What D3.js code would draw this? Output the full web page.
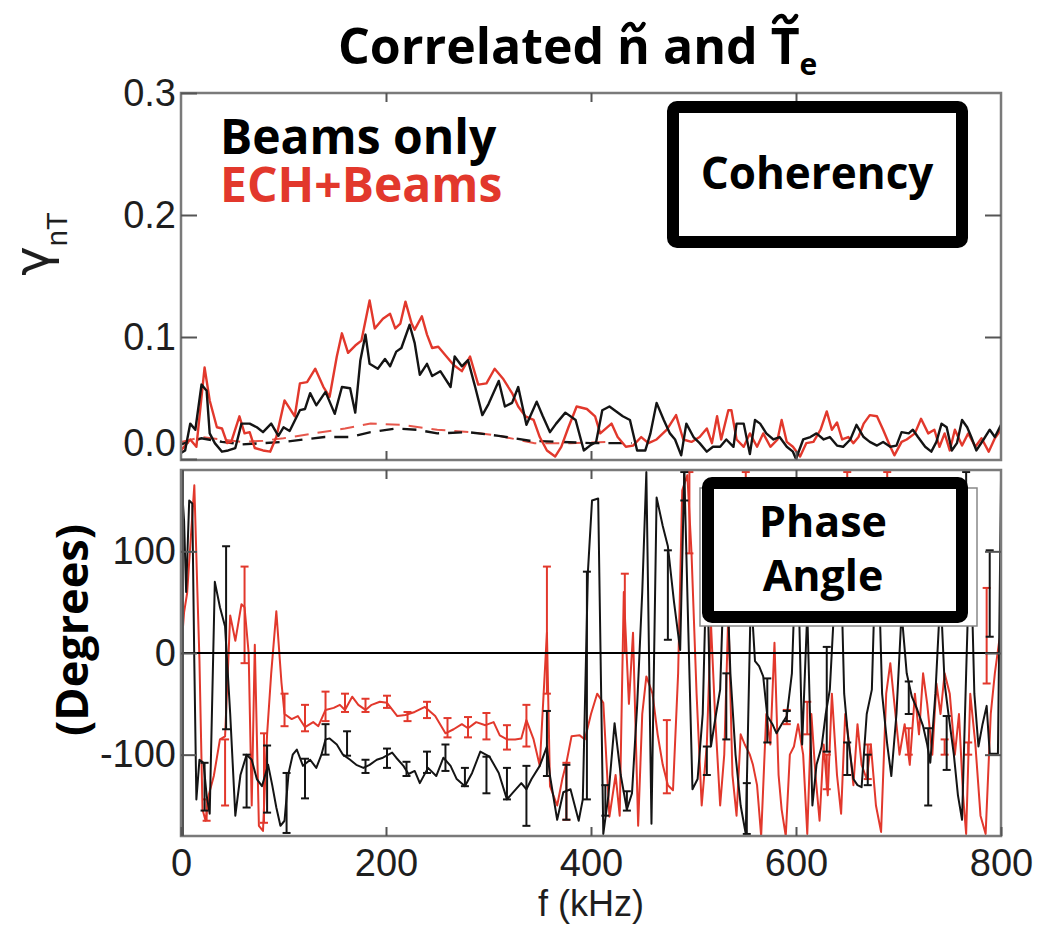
<!DOCTYPE html>
<html><head><meta charset="utf-8">
<script src="https://cdn.jsdelivr.net/npm/d3@7"></script>
<style>body{margin:0;background:#fff}</style>
</head><body>
<svg id="c" width="1055" height="929"></svg>
<script>
// ---------- data ----------
const freqTicks = [0, 200, 400, 600, 800];
const cohTicks = [0, 0.1, 0.2, 0.3];
const phaseTicks = [-100, 0, 100];
const legendLabels = ["Beams only", "ECH+Beams"];

// coherency [f (kHz), gamma]
const cohBeams = [[0,.005],[4,.007],[9,.029],[14,.024],[20,.061],[25,.056],[28,.021],[33,.013],[40,.006],[46,.007],[53,.009],[59,.029],[67,.029],[74,.026],[80,.022],[88,.029],[95,.019],[100,.026],[106,.023],[116,.040],[121,.041],[126,.054],[132,.044],[141,.055],[150,.037],[157,.059],[165,.058],[170,.038],[175,.081],[180,.102],[184,.078],[192,.074],[199,.082],[204,.076],[210,.088],[215,.091],[223,.110],[228,.095],[233,.069],[240,.078],[245,.068],[253,.072],[263,.059],[267,.084],[274,.076],[280,.081],[287,.059],[294,.036],[300,.045],[310,.064],[316,.043],[323,.046],[329,.059],[337,.028],[347,.047],[353,.035],[360,.022],[366,.029],[375,.038],[385,.032],[393,.007],[399,.011],[405,.014],[411,.040],[418,.043],[431,.035],[438,.032],[445,.007],[453,.007],[458,.021],[464,.046],[471,.032],[477,.021],[482,.016],[488,.003],[493,.029],[500,.018],[506,.013],[513,.006],[519,.010],[526,.010],[532,.016],[539,.010],[542,.029],[549,.029],[555,.004],[560,.032],[565,.029],[571,.021],[578,.016],[584,.018],[591,.010],[597,.006],[600,.000],[607,.016],[614,.018],[620,.021],[627,.016],[633,.018],[640,.011],[646,.010],[653,.016],[659,.028],[666,.018],[672,.014],[679,.011],[685,.014],[692,.010],[698,.011],[703,.022],[710,.021],[714,.024],[719,.018],[726,.010],[732,.006],[737,.014],[742,.029],[747,.026],[752,.007],[757,.013],[762,.032],[767,.026],[771,.018],[776,.007],[783,.016],[789,.024],[794,.018],[800,.028]];
const cohECH = [[0,.007],[9,.016],[15,.010],[23,.075],[28,.048],[35,.026],[40,.025],[45,.013],[49,.014],[57,.035],[62,.021],[67,.022],[72,.009],[80,.007],[87,.006],[93,.018],[101,.048],[111,.035],[116,.062],[123,.063],[131,.074],[139,.059],[145,.051],[152,.084],[157,.103],[163,.087],[170,.093],[176,.097],[184,.130],[189,.107],[197,.115],[204,.119],[209,.107],[214,.111],[219,.129],[225,.111],[228,.106],[235,.117],[240,.102],[245,.091],[251,.092],[259,.084],[266,.077],[274,.072],[282,.084],[290,.061],[298,.062],[306,.074],[314,.066],[323,.054],[329,.043],[336,.035],[344,.032],[350,.018],[357,.007],[365,.002],[371,.010],[378,.026],[386,.043],[396,.041],[404,.035],[409,.021],[420,.029],[426,.018],[434,.010],[441,.011],[449,.018],[456,.013],[464,.016],[474,.024],[483,.036],[490,.016],[498,.014],[506,.018],[513,.025],[518,.013],[523,.035],[527,.016],[534,.040],[537,.040],[542,.016],[549,.010],[555,.021],[562,.010],[568,.021],[575,.010],[582,.016],[586,.032],[591,.014],[597,.010],[604,.002],[610,.013],[617,.014],[624,.024],[630,.039],[635,.024],[640,.030],[645,.016],[651,.018],[656,.013],[661,.018],[666,.029],[672,.036],[679,.035],[685,.024],[692,.010],[696,.003],[703,.014],[708,.016],[716,.021],[722,.033],[729,.021],[735,.024],[740,.010],[745,.021],[750,.007],[755,.024],[762,.011],[768,.021],[775,.010],[781,.017],[788,.006],[794,.017],[800,.024]];
// noise levels (dashed)
const noiseBeams = [[0,.012],[20,.017],[40,.014],[60,.012],[80,.013],[100,.014],[120,.016],[140,.018],[165,.018],[185,.022],[210,.025],[230,.024],[250,.021],[280,.022],[310,.019],[340,.015],[370,.014],[400,.013],[440,.013]];
const noiseECH = [[0,.014],[20,.018],[40,.016],[60,.014],[80,.015],[100,.017],[130,.021],[160,.025],[185,.029],[215,.028],[250,.024],[282,.022],[310,.019],[345,.013],[380,.013],[420,.014]];

// phase angle [f (kHz), degrees]
const phaseBeams = [[0,176],[3,130],[5,60],[8,150],[11,147],[13,-10],[15,-144],[18,-105],[22,-108],[25,-140],[28,-158],[33,70],[38,45],[43,26],[48,-60],[53,-160],[58,-120],[64,-100],[69,-105],[74,-124],[79,-131],[85,-110],[89,-130],[93,-152],[97,-170],[101,-165],[105,-118],[109,-100],[113,-95],[119,-111],[126,-105],[132,-113],[137,-100],[141,-85],[145,-84],[152,-90],[158,-100],[165,-105],[171,-110],[178,-113],[184,-110],[191,-105],[197,-103],[206,-98],[210,-103],[217,-111],[222,-119],[228,-116],[233,-128],[241,-113],[249,-121],[256,-103],[263,-111],[269,-124],[277,-131],[284,-118],[292,-97],[301,-102],[310,-118],[318,-144],[324,-137],[332,-128],[337,-134],[342,-124],[350,-111],[357,-92],[360,-121],[367,-164],[373,-137],[380,-134],[388,-165],[392,-144],[397,80],[401,150],[407,152],[412,-178],[417,-140],[423,-69],[429,-120],[435,-154],[440,-138],[445,-52],[450,60],[454,178],[459,-168],[464,153],[470,125],[475,105],[481,50],[487,3],[491,178],[495,20],[499,-134],[504,-124],[509,-60],[513,100],[517,-92],[522,-60],[526,-36],[531,120],[536,-20],[541,-100],[546,-150],[551,-178],[556,60],[560,-8],[564,-13],[568,-23],[572,-62],[577,-70],[581,-79],[586,-70],[591,-62],[596,-20],[601,130],[606,-90],[611,40],[616,-150],[620,-110],[625,-92],[629,-60],[633,-36],[638,60],[643,120],[647,-40],[651,-85],[656,-124],[660,-130],[664,-132],[669,-60],[674,-36],[679,140],[684,-40],[689,-90],[693,-121],[698,-60],[703,40],[708,-20],[713,-43],[718,-55],[724,-72],[728,-90],[731,-108],[736,-40],[741,60],[745,-30],[749,-62],[754,-100],[758,-140],[762,-164],[766,-20],[770,120],[774,-40],[778,-92],[782,-70],[786,-52],[789,-99],[793,-99],[797,-99],[800,170]];
const phaseECH = [[0,0],[3,40],[6,59],[10,120],[13,165],[16,60],[18,-7],[21,-154],[24,-165],[27,-140],[32,-121],[38,-85],[43,-82],[48,37],[53,12],[59,48],[62,45],[66,0],[69,-150],[72,8],[76,-170],[80,-175],[84,-80],[88,-20],[93,41],[98,-29],[101,-60],[108,-65],[114,-62],[121,-73],[129,-68],[134,-72],[141,-56],[149,-54],[155,-51],[160,-56],[167,-43],[173,-51],[180,-56],[186,-51],[194,-48],[201,-49],[211,-62],[219,-61],[228,-58],[238,-53],[248,-62],[258,-79],[266,-75],[274,-70],[280,-74],[288,-68],[297,-71],[305,-68],[311,-81],[318,-85],[326,-85],[332,-84],[337,-66],[344,-85],[350,-111],[357,20],[360,-131],[367,-150],[372,-124],[376,-108],[381,-82],[389,-81],[394,-85],[400,-60],[406,-40],[412,-49],[418,-161],[424,-120],[428,-160],[432,60],[437,-50],[441,20],[446,-170],[450,-60],[454,-23],[460,-40],[465,-80],[470,-110],[475,-130],[480,-135],[485,-20],[489,160],[494,175],[498,100],[503,-40],[508,-150],[513,-90],[517,30],[521,-60],[526,-150],[530,-100],[534,40],[538,-120],[542,-160],[546,-80],[550,-90],[555,-100],[558,-110],[562,-130],[566,-180],[571,-60],[575,-90],[579,10],[583,-120],[586,-154],[590,-180],[594,-100],[598,-92],[602,-70],[607,-100],[611,-178],[615,-60],[619,-120],[623,-165],[627,-90],[631,-140],[635,-40],[640,-120],[644,-158],[648,-60],[652,-90],[656,-130],[660,-70],[664,-110],[669,-124],[673,-90],[678,-150],[683,-176],[688,-40],[692,-10],[697,-60],[701,-100],[706,-70],[711,-110],[716,-40],[720,-80],[724,-20],[728,-50],[733,-100],[737,-30],[741,-60],[745,-20],[750,-40],[755,-100],[759,-60],[763,-140],[766,-178],[770,-40],[775,-90],[780,-160],[785,-178],[790,-60],[794,-20],[798,10],[800,20]];
// error bars [f, low, high] in degrees
const errBeams = [[23,-155,-108],[44,-75,105],[64,-152,-100],[84,-157,-91],[103,-177,-118],[121,-143,-104],[141,-100,-70],[162,-101,-77],[180,-118,-105],[201,-113,-94],[220,-121,-107],[240,-118,-97],[258,-116,-90],[277,-131,-113],[298,-138,-102],[318,-144,-113],[337,-170,-111],[357,-121,-57],[376,-164,-110],[396,-144,80],[414,-160,-130],[435,-155,-136],[475,13,101],[491,150,178],[513,-120,-92],[532,-85,-20],[552,-178,-128],[572,-88,-25],[591,-67,-57],[630,-97,6],[650,-120,-88],[670,-130,-100],[710,-60,-28],[729,-150,-74],[747,-115,-62],[766,120,178],[789,16,101]];
const errECH = [[25,-165,-144],[43,-150,-85],[62,-10,85],[81,-167,-79],[101,-72,-40],[121,-77,-51],[141,-67,-38],[160,-58,-40],[180,-58,-45],[201,-54,-42],[221,-67,-58],[240,-64,-48],[260,-83,-64],[280,-83,-63],[298,-85,-59],[318,-95,-71],[337,-92,-51],[357,-40,85],[376,-164,-108],[433,0,78],[474,-138,-66],[496,98,178],[551,140,178],[591,-70,-56],[611,-80,-48],[630,-134,-100],[650,150,178],[670,-124,-90],[689,150,178],[710,-100,-74],[745,-100,-85],[768,-100,-88],[786,-30,64]];

// ---------- drawing ----------
const BLACK = "#141414", RED = "#e2382c", FRAME = "#7a7a7a";
const svg = d3.select("#c");
const L = 181, R = 1001;
const x = d3.scaleLinear().domain([0, 800]).range([L, R]);
const yc = d3.scaleLinear().domain([0, 0.3]).range([459, 93]);
const yp = d3.scaleLinear().domain([-180, 180]).range([836, 470]);

const defs = svg.append("defs");
defs.append("clipPath").attr("id", "clipTop").append("rect").attr("x", L).attr("y", 93).attr("width", R - L).attr("height", 367);
defs.append("clipPath").attr("id", "clipBot").append("rect").attr("x", L).attr("y", 470).attr("width", R - L).attr("height", 366);

// ---- top panel: coherency ----
const gTop = svg.append("g").attr("clip-path", "url(#clipTop)");
const lineC = d3.line().x(d => x(d[0])).y(d => yc(d[1]));
gTop.append("path").datum(noiseECH).attr("d", lineC).attr("fill", "none").attr("stroke", RED).attr("stroke-width", 2).attr("stroke-dasharray", "14,9").attr("opacity", 0.85);
gTop.append("path").datum(noiseBeams).attr("d", lineC).attr("fill", "none").attr("stroke", BLACK).attr("stroke-width", 2.4).attr("stroke-dasharray", "14,9").attr("stroke-dashoffset", 6);
gTop.append("path").datum(cohECH).attr("d", lineC).attr("fill", "none").attr("stroke", RED).attr("stroke-width", 2.4).attr("stroke-linejoin", "round");
gTop.append("path").datum(cohBeams).attr("d", lineC).attr("fill", "none").attr("stroke", BLACK).attr("stroke-width", 2.4).attr("stroke-linejoin", "round");

// ---- bottom panel: phase ----
const gBot = svg.append("g").attr("clip-path", "url(#clipBot)");
const lineP = d3.line().x(d => x(d[0])).y(d => yp(d[1]));
function errBars(data, color) {
  const g = gBot.append("g").attr("stroke", color).attr("stroke-width", 2);
  data.forEach(d => {
    const xx = x(d[0]), y1 = yp(d[1]), y2 = yp(d[2]);
    g.append("line").attr("x1", xx).attr("x2", xx).attr("y1", y1).attr("y2", y2);
    g.append("line").attr("x1", xx - 4).attr("x2", xx + 4).attr("y1", y1).attr("y2", y1);
    g.append("line").attr("x1", xx - 4).attr("x2", xx + 4).attr("y1", y2).attr("y2", y2);
  });
}
gBot.append("path").datum(phaseECH).attr("d", lineP).attr("fill", "none").attr("stroke", RED).attr("stroke-width", 2).attr("stroke-linejoin", "round");
errBars(errECH, RED);
gBot.append("path").datum(phaseBeams).attr("d", lineP).attr("fill", "none").attr("stroke", BLACK).attr("stroke-width", 2).attr("stroke-linejoin", "round");
errBars(errBeams, BLACK);
gBot.append("line").attr("x1", L).attr("x2", R).attr("y1", yp(0)).attr("y2", yp(0)).attr("stroke", "#000").attr("stroke-width", 2);

// ---- frames ----
svg.append("rect").attr("x", L).attr("y", 93).attr("width", R - L).attr("height", 367).attr("fill", "none").attr("stroke", FRAME).attr("stroke-width", 2.5);
svg.append("rect").attr("x", L).attr("y", 470).attr("width", R - L).attr("height", 366).attr("fill", "none").attr("stroke", FRAME).attr("stroke-width", 2.5);
svg.append("line").attr("x1", L + 2).attr("x2", L + 2).attr("y1", 470).attr("y2", 836).attr("stroke", "#555").attr("stroke-width", 2);

// ---- axes ----
const tickFont = "'Liberation Sans', Arial, sans-serif";
function styleAxis(g, showText) {
  g.select(".domain").remove();
  g.selectAll(".tick line").attr("stroke", "#555").attr("stroke-width", 2);
  g.selectAll(".tick text").attr("fill", "#1e1e1e").style("font-family", tickFont).style("font-size", "38px");
  if (!showText) g.selectAll(".tick text").remove();
}
// top panel
svg.append("g").attr("transform", `translate(${L},0)`).call(d3.axisLeft(yc).tickValues(cohTicks).tickFormat(d3.format(".1f")).tickSize(-16).tickPadding(5))
  .call(g => styleAxis(g, true))
  .call(g => g.selectAll(".tick").filter(d => d === 0).select("text").attr("dy", "-0.1em"));
svg.append("g").attr("transform", `translate(${R},0)`).call(d3.axisRight(yc).tickValues([0.1, 0.2]).tickSize(-16)).call(g => styleAxis(g, false));
svg.append("g").attr("transform", "translate(0,93)").call(d3.axisTop(x).tickValues([200, 400, 600]).tickSize(-9)).call(g => styleAxis(g, false));
svg.append("g").attr("transform", "translate(0,460)").call(d3.axisBottom(x).tickValues([200, 400, 600]).tickSize(-9)).call(g => styleAxis(g, false));
// bottom panel
svg.append("g").attr("transform", `translate(${L},0)`).call(d3.axisLeft(yp).tickValues(phaseTicks).tickFormat(d => String(d)).tickSize(-16).tickPadding(5)).call(g => styleAxis(g, true));
svg.append("g").attr("transform", `translate(${R},0)`).call(d3.axisRight(yp).tickValues(phaseTicks).tickSize(-16)).call(g => styleAxis(g, false));
svg.append("g").attr("transform", "translate(0,470)").call(d3.axisTop(x).tickValues([200, 400, 600]).tickSize(-9)).call(g => styleAxis(g, false));
svg.append("g").attr("transform", "translate(0,836)").call(d3.axisBottom(x).tickValues(freqTicks).tickSize(-9).tickPadding(13)).call(g => styleAxis(g, true));

// ---- axis titles ----
svg.append("text").attr("x", x(400)).attr("y", 916).attr("text-anchor", "middle")
  .style("font-family", tickFont).style("font-size", "36px").attr("fill", "#1e1e1e").text("f (kHz)");
const yl = svg.append("text").attr("transform", "translate(49,244) rotate(-90)").attr("text-anchor", "middle")
  .style("font-family", tickFont).attr("fill", "#1e1e1e");
yl.append("tspan").style("font-family", "'DejaVu Sans', sans-serif").style("font-size", "50px").text("γ");
yl.append("tspan").style("font-size", "29px").attr("dy", 18).text("nT");
svg.append("text").attr("transform", "translate(88,630) rotate(-90)").attr("text-anchor", "middle")
  .style("font-family", "'Open Sans', sans-serif").style("font-weight", 700).style("font-size", "45px").attr("fill", "#000").text("(Degrees)");

// ---- title ----
const boldFont = "'Open Sans', sans-serif";
const title = svg.append("text").attr("x", 338).attr("y", 64)
  .style("font-family", boldFont).style("font-weight", 700).style("font-size", "50px").attr("fill", "#000");
title.append("tspan").text("Correlated n and T");
title.append("tspan").attr("dy", 11).style("font-size", "30px").text("e");
const tnode = title.node();
function tilde(idx, cy, w) {
  const ext = tnode.getExtentOfChar(idx);
  const cx = ext.x + ext.width / 2;
  svg.append("path")
    .attr("d", `M${cx - w / 2},${cy + 3} C${cx - w / 4},${cy - 6} ${cx - 1},${cy - 3} ${cx},${cy} S${cx + w / 4},${cy + 6} ${cx + w / 2},${cy - 3}`)
    .attr("fill", "none").attr("stroke", "#000").attr("stroke-width", 4.5).attr("stroke-linecap", "round");
}
tilde(11, 27, 20);
tilde(17, 19, 22);

// ---- legend texts (one text element, two lines) ----
const leg = svg.append("text").style("font-family", boldFont).style("font-weight", 700).style("font-size", "48px");
leg.append("tspan").attr("x", 220).attr("y", 154).attr("fill", "#000").text(legendLabels[0]);
leg.append("tspan").attr("x", 220).attr("y", 202).attr("fill", RED).text(legendLabels[1]);

// ---- annotation boxes ----
svg.append("rect").attr("x", 673).attr("y", 107).attr("width", 289).attr("height", 135).attr("rx", 4)
  .attr("fill", "#fff").attr("stroke", "#000").attr("stroke-width", 12);
svg.append("text").attr("x", 817).attr("y", 189).attr("text-anchor", "middle").style("font-family", boldFont).style("font-weight", 700).style("font-size", "44px").text("Coherency");

svg.append("rect").attr("x", 700).attr("y", 488).attr("width", 277).attr("height", 138).attr("fill", "#fff").attr("stroke", "#888").attr("stroke-width", 1.5);
svg.append("rect").attr("x", 708).attr("y", 483).attr("width", 254).attr("height", 134).attr("rx", 4)
  .attr("fill", "#fff").attr("stroke", "#000").attr("stroke-width", 12);
const pa = svg.append("text").attr("text-anchor", "middle").style("font-family", boldFont).style("font-weight", 700).style("font-size", "43px");
pa.append("tspan").attr("x", 823).attr("y", 537).text("Phase");
pa.append("tspan").attr("x", 823).attr("y", 591).text("Angle");
</script>
</body></html>
